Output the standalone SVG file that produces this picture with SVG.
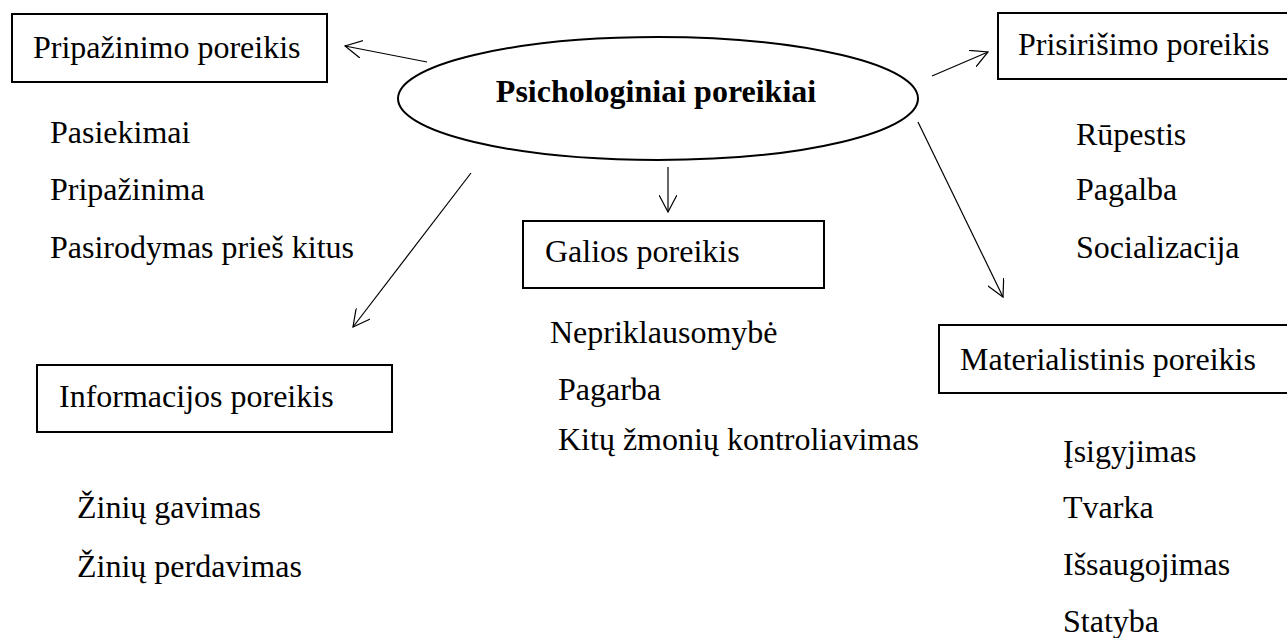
<svg xmlns="http://www.w3.org/2000/svg" width="1287" height="638" viewBox="0 0 1287 638">
<style>
text{font-family:"Liberation Serif","Times New Roman",serif;font-size:32px;fill:#000}
.title{font-weight:bold;text-anchor:middle}
.box{fill:#fff;stroke:#000;stroke-width:2}
.conn{stroke:#000;stroke-width:1.2;fill:none}
</style>
<defs>
<marker id="arr" viewBox="0 0 18 18" refX="17" refY="9" markerWidth="18" markerHeight="18" markerUnits="userSpaceOnUse" orient="auto">
<path d="M0,0 L17,9 L0,18" fill="none" stroke="#000" stroke-width="1.2"/>
</marker>
</defs>
<rect width="1287" height="638" fill="#fff"/>
<g id="connectors">
<line class="conn" x1="427" y1="62" x2="345" y2="46" marker-end="url(#arr)"/>
<line class="conn" x1="932" y1="76" x2="988" y2="52" marker-end="url(#arr)"/>
<line class="conn" x1="668" y1="167" x2="668" y2="212" marker-end="url(#arr)"/>
<line class="conn" x1="471" y1="173" x2="353" y2="327" marker-end="url(#arr)"/>
<line class="conn" x1="918" y1="122" x2="1003" y2="297" marker-end="url(#arr)"/>
</g>
<g id="center">
<ellipse cx="658" cy="98.5" rx="260" ry="61.5" fill="none" stroke="#000" stroke-width="2"/>
<text class="title" x="656" y="102">Psichologiniai poreikiai</text>
</g>
<g id="pripazinimo">
<rect class="box" x="12" y="14" width="315" height="68"/>
<text x="33" y="58">Pripažinimo poreikis</text>
<text x="50" y="143">Pasiekimai</text>
<text x="50" y="200">Pripažinima</text>
<text x="50" y="258">Pasirodymas prieš kitus</text>
</g>
<g id="prisirisimo">
<rect class="box" x="998" y="13" width="300" height="66"/>
<text x="1018" y="55">Prisirišimo poreikis</text>
<text x="1076" y="145">Rūpestis</text>
<text x="1076" y="200">Pagalba</text>
<text x="1076" y="258">Socializacija</text>
</g>
<g id="galios">
<rect class="box" x="523" y="221" width="301" height="67"/>
<text x="545" y="262">Galios poreikis</text>
<text x="550" y="343">Nepriklausomybė</text>
<text x="558" y="400">Pagarba</text>
<text x="558" y="450">Kitų žmonių kontroliavimas</text>
</g>
<g id="informacijos">
<rect class="box" x="37" y="365" width="355" height="67"/>
<text x="59" y="407">Informacijos poreikis</text>
<text x="77" y="518">Žinių gavimas</text>
<text x="77" y="577">Žinių perdavimas</text>
</g>
<g id="materialistinis">
<rect class="box" x="939" y="325" width="360" height="68"/>
<text x="960" y="370">Materialistinis poreikis</text>
<text x="1063" y="462">Įsigyjimas</text>
<text x="1063" y="518">Tvarka</text>
<text x="1063" y="575">Išsaugojimas</text>
<text x="1063" y="632">Statyba</text>
</g>
</svg>
